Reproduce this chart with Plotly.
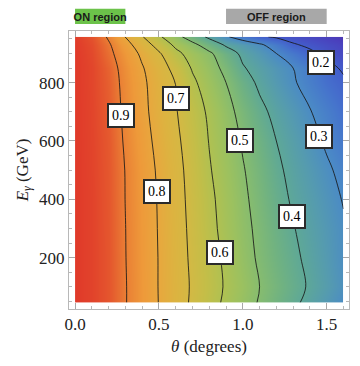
import plotly.graph_objects as go

# ---- data ----
theta = [0.0, 0.1, 0.2, 0.3, 0.4, 0.5, 0.6, 0.7, 0.8, 0.9, 1.0, 1.1, 1.2, 1.3, 1.4, 1.5, 1.6]
energy = [46, 100, 200, 300, 400, 500, 600, 700, 800, 850, 900, 930, 957]

z_e46 = [1.0, 0.985, 0.955, 0.904, 0.851, 0.798, 0.742, 0.687, 0.634, 0.584, 0.538, 0.493, 0.455, 0.416, 0.378, 0.341, 0.304]
z_e100 = [1.0, 0.985, 0.955, 0.904, 0.851, 0.797, 0.743, 0.690, 0.640, 0.591, 0.546, 0.500, 0.464, 0.427, 0.391, 0.355, 0.318]
z_e200 = [1.0, 0.985, 0.955, 0.902, 0.849, 0.797, 0.740, 0.685, 0.634, 0.584, 0.533, 0.488, 0.452, 0.416, 0.381, 0.346, 0.310]
z_e300 = [1.0, 0.985, 0.954, 0.901, 0.848, 0.795, 0.737, 0.680, 0.625, 0.573, 0.524, 0.481, 0.442, 0.404, 0.371, 0.339, 0.308]
z_e400 = [1.0, 0.985, 0.953, 0.899, 0.846, 0.793, 0.733, 0.675, 0.619, 0.566, 0.516, 0.471, 0.429, 0.390, 0.359, 0.327, 0.296]
z_e500 = [1.0, 0.984, 0.952, 0.898, 0.843, 0.788, 0.729, 0.668, 0.607, 0.556, 0.506, 0.461, 0.416, 0.378, 0.345, 0.312, 0.280]
z_e600 = [1.0, 0.983, 0.950, 0.891, 0.834, 0.776, 0.718, 0.658, 0.597, 0.544, 0.492, 0.446, 0.400, 0.363, 0.326, 0.289, 0.255]
z_e700 = [1.0, 0.982, 0.945, 0.884, 0.823, 0.764, 0.706, 0.645, 0.586, 0.528, 0.473, 0.421, 0.378, 0.341, 0.304, 0.270, 0.236]
z_e800 = [1.0, 0.980, 0.940, 0.878, 0.817, 0.757, 0.699, 0.617, 0.556, 0.500, 0.438, 0.385, 0.346, 0.308, 0.271, 0.236, 0.212]
z_e850 = [1.0, 0.980, 0.935, 0.871, 0.807, 0.743, 0.671, 0.592, 0.537, 0.477, 0.407, 0.369, 0.334, 0.300, 0.261, 0.222, 0.190]
z_e900 = [1.0, 0.975, 0.920, 0.854, 0.783, 0.711, 0.623, 0.564, 0.515, 0.444, 0.382, 0.341, 0.300, 0.257, 0.213, 0.185, 0.168]
z_e930 = [0.998, 0.970, 0.910, 0.833, 0.750, 0.663, 0.581, 0.523, 0.454, 0.388, 0.350, 0.312, 0.263, 0.206, 0.188, 0.172, 0.158]
z_e957 = [0.995, 0.960, 0.890, 0.798, 0.706, 0.615, 0.530, 0.454, 0.382, 0.310, 0.259, 0.211, 0.190, 0.178, 0.166, 0.153, 0.140]

z_rows = [z_e46, z_e100, z_e200, z_e300, z_e400, z_e500, z_e600,
          z_e700, z_e800, z_e850, z_e900, z_e930, z_e957]

# contour label texts and their anchor points (theta, E)
label_texts = ["0.9", "0.8", "0.7", "0.6", "0.5", "0.4", "0.3", "0.2"]
label_theta = [0.275, 0.487, 0.599, 0.862, 0.983, 1.294, 1.456, 1.464]
label_energy = [686, 426, 746, 217, 601, 341, 617, 870]

on_region = [0.0, 0.3]
off_region = [0.9, 1.5]

x_ticks = [0.0, 0.5, 1.0, 1.5]
x_ticktext = ["0.0", "0.5", "1.0", "1.5"]
y_ticks = [200, 400, 600, 800]

# ---- styling ----
zmin, zmax = 0.13, 1.0
color_pts = [
    (0.13, "#5634A8"), (0.15, "#4B3EBC"), (0.20, "#435ECB"), (0.25, "#4676CC"),
    (0.30, "#4B8BC6"), (0.35, "#559BB0"), (0.40, "#5EA898"), (0.45, "#70B282"),
    (0.50, "#86BC70"), (0.55, "#9CC160"), (0.60, "#B0C152"), (0.65, "#C4BE48"),
    (0.70, "#D4B944"), (0.75, "#DDB340"), (0.80, "#E8A83E"), (0.85, "#EE9A3A"),
    (0.90, "#EA8035"), (0.95, "#E55A2E"), (1.00, "#E03A2A"),
]
colorscale = [[(v - zmin) / (zmax - zmin), c] for v, c in color_pts]

serif = "Liberation Serif, Times New Roman, serif"
sans = "Liberation Sans, Arial, sans-serif"

fig = go.Figure()
fig.add_trace(go.Contour(
    x=theta, y=energy, z=z_rows,
    zmin=zmin, zmax=zmax, zauto=False,
    colorscale=colorscale, showscale=False,
    contours=dict(start=0.2, end=0.9, size=0.1, coloring="heatmap", showlabels=False),
    line=dict(color="rgba(25,25,25,0.85)", width=1, smoothing=1.0),
    hoverinfo="skip",
))

for t, xt, yt in zip(label_texts, label_theta, label_energy):
    fig.add_annotation(
        x=xt, y=yt, xref="x", yref="y", text=t, showarrow=False,
        font=dict(family=serif, size=14, color="#000"),
        bgcolor="white", bordercolor="#2a2a2a", borderwidth=2, borderpad=3,
    )

# ON / OFF region boxes above the plot
for rng, fill, txt in [(on_region, "#6CC24A", "ON region"), (off_region, "#A8A8A8", "OFF region")]:
    fig.add_shape(type="rect", xref="x", yref="paper", x0=rng[0], x1=rng[1],
                  y0=1.025, y1=1.08, fillcolor=fill, line=dict(width=0), layer="above",
                  label=dict(text=txt, textposition="middle center",
                             font=dict(family=sans, size=11, color="#1a1a1a", weight="bold")))

axis_common = dict(
    showline=True, linecolor="#B8B8B8", linewidth=1, mirror="ticks",
    ticks="inside", ticklen=6, tickcolor="#A8A8A8", tickwidth=1,
    showgrid=False, zeroline=False,
    tickfont=dict(family=serif, size=17, color="#222"),
)

fig.update_xaxes(
    range=[-0.036, 1.633], tickvals=x_ticks, ticktext=x_ticktext,
    minor=dict(dtick=0.1, tick0=0, ticks="inside", ticklen=3, tickcolor="#B8B8B8", showgrid=False),
    title=dict(text="<i>θ</i> (degrees)", font=dict(family=serif, size=17, color="#222"), standoff=6),
    **axis_common,
)
fig.update_yaxes(
    range=[24, 977], tickvals=y_ticks,
    minor=dict(dtick=50, tick0=0, ticks="inside", ticklen=3, tickcolor="#B8B8B8", showgrid=False),
    title=dict(text="<i>E</i><sub><i>γ</i></sub> (GeV)", font=dict(family=serif, size=17, color="#222"), standoff=6),
    **axis_common,
)

# page body adds an 8px offset, so the figure is 8px smaller than the window
fig.update_layout(
    width=352, height=358,
    margin=dict(l=61, r=11, t=23, b=57, autoexpand=False),
    paper_bgcolor="white", plot_bgcolor="white",
    showlegend=False,
)

fig.write_html("out.html")
